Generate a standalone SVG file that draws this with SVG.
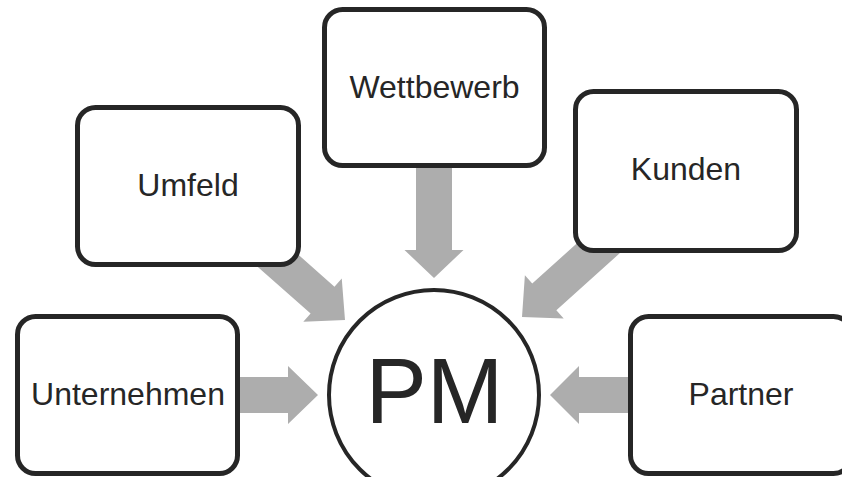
<svg xmlns="http://www.w3.org/2000/svg" width="842" height="477" viewBox="0 0 842 477">
<style>
.box{fill:#fff;stroke:#262626;stroke-width:5}
.arr{fill:#adadad}
.lbl{font-family:"Liberation Sans",Arial,sans-serif;font-size:32px;fill:#262626;text-anchor:middle}
</style>
<rect width="842" height="477" fill="#fff"/>
<g id="connectors">
<polygon class="arr" transform="translate(318,395)" points="0,0 -30,-29 -30,-18 -100,-18 -100,18 -30,18 -30,29"/>
<polygon class="arr" transform="translate(550,395) rotate(180)" points="0,0 -29,-29 -29,-18 -100,-18 -100,18 -29,18 -29,29"/>
<polygon class="arr" transform="translate(434,278) rotate(90)" points="0,0 -28,-29.5 -28,-18 -130,-18 -130,18 -28,18 -28,29.5"/>
<polygon class="arr" transform="translate(345,320) rotate(41.5)" points="0,0 -30,-29 -30,-18 -105,-18 -105,18 -30,18 -30,29"/>
<polygon class="arr" transform="translate(522,317) rotate(138)" points="0,0 -30,-29 -30,-18 -120,-18 -120,18 -30,18 -30,29"/>
</g>
<g id="node-unternehmen">
<rect class="box" x="17.5" y="316.5" width="220" height="157" rx="18"/>
<text class="lbl" x="128" y="405">Unternehmen</text>
</g>
<g id="node-umfeld">
<rect class="box" x="77.5" y="107.5" width="221" height="157" rx="18"/>
<text class="lbl" x="188" y="196">Umfeld</text>
</g>
<g id="node-wettbewerb">
<rect class="box" x="324.5" y="9.5" width="220" height="156" rx="18"/>
<text class="lbl" x="434.5" y="98">Wettbewerb</text>
</g>
<g id="node-kunden">
<rect class="box" x="575.5" y="91.5" width="221" height="159" rx="18"/>
<text class="lbl" x="686" y="180">Kunden</text>
</g>
<g id="node-partner">
<rect class="box" x="630.5" y="316.5" width="221" height="157" rx="18"/>
<text class="lbl" x="741" y="405">Partner</text>
</g>
<g id="node-pm">
<circle cx="434" cy="395" r="105" fill="#fff" stroke="#262626" stroke-width="4"/>
<text x="434.5" y="423" font-family="'Liberation Sans',Arial,sans-serif" font-size="92" fill="#262626" text-anchor="middle">PM</text>
</g>
</svg>
